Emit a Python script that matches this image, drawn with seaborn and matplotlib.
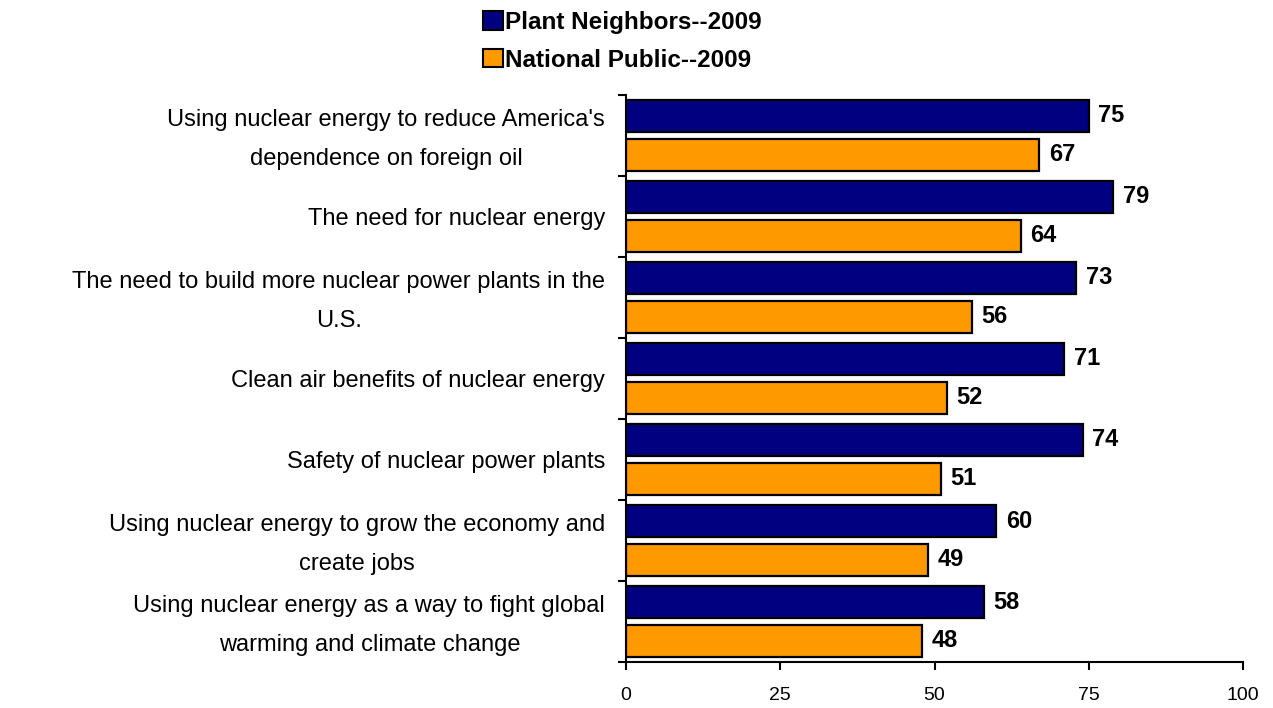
import pandas as pd
import matplotlib
matplotlib.use('Agg')
import matplotlib.pyplot as plt
import matplotlib.transforms as mtransforms
import seaborn as sns
from matplotlib.patches import Patch

# ── Data ──────────────────────────────────────────────────────────
categories = [
    "Using nuclear energy to reduce America's\ndependence on foreign oil",
    "The need for nuclear energy",
    "The need to build more nuclear power plants in the\nU.S.",
    "Clean air benefits of nuclear energy",
    "Safety of nuclear power plants",
    "Using nuclear energy to grow the economy and\ncreate jobs",
    "Using nuclear energy as a way to fight global\nwarming and climate change",
]
plant_neighbors = [75, 79, 73, 71, 74, 60, 58]
national_public = [67, 64, 56, 52, 51, 49, 48]
series_names = ["Plant Neighbors--2009", "National Public--2009"]
x_ticks = [0, 25, 50, 75, 100]

colors = ["#000080", "#FF9900"]

df = pd.DataFrame({
    'category': categories * 2,
    'value': plant_neighbors + national_public,
    'series': [series_names[0]] * len(categories) + [series_names[1]] * len(categories),
})

# ── Plot ──────────────────────────────────────────────────────────
sns.set_style('ticks')
plt.rcParams['font.family'] = ['Liberation Sans', 'DejaVu Sans']
plt.rcParams['text.color'] = 'black'
plt.rcParams['xtick.color'] = 'black'
plt.rcParams['ytick.color'] = 'black'

fig = plt.figure(figsize=(12.73, 7.08), dpi=100)
ax = fig.add_axes([0.4918, 0.065, 0.4846, 0.801])

sns.barplot(data=df, y='category', x='value', hue='series', orient='h',
            palette=colors, saturation=1, width=0.96, gap=0.17,
            edgecolor='black', linewidth=1.6, legend=False, ax=ax)

# value labels
for cont in ax.containers:
    ax.bar_label(cont, fmt='%d', padding=7, fontsize=17, fontweight='bold')

ax.set_xlim(0, 100)
ax.set_ylim(len(categories) - 0.5, -0.5)
ax.set_xticks(x_ticks)
ax.set_xlabel('')
ax.set_ylabel('')

# category labels centered, tick marks at group boundaries
ax.set_yticks(range(len(categories)))
ax.set_yticklabels(categories, fontsize=17, multialignment='center',
                   linespacing=2.0)
ax.set_yticks([i - 0.5 for i in range(len(categories) + 1)], minor=True)
ax.tick_params(axis='y', which='major', left=True, length=0, pad=15)
ax.tick_params(axis='y', which='minor', left=True, length=6, width=1.5,
               color='black', direction='out')
ax.tick_params(axis='x', bottom=True, length=6, width=1.5, color='black',
               direction='out', labelsize=14, pad=12)

# nudge two-line labels up a little so they sit centred on the group
shift = mtransforms.ScaledTranslation(0, 5 / 72, fig.dpi_scale_trans)
for lbl in ax.get_yticklabels():
    if '\n' in lbl.get_text():
        lbl.set_transform(lbl.get_transform() + shift)

for side in ['top', 'right']:
    ax.spines[side].set_visible(False)
for side in ['left', 'bottom']:
    ax.spines[side].set_color('black')
    ax.spines[side].set_linewidth(1.5)

# legend on top
handles = [Patch(facecolor=c, edgecolor='black', linewidth=1.5) for c in colors]
fig.legend(handles, series_names, loc='upper left', bbox_to_anchor=(0.371, 1.0),
           frameon=False, prop={'weight': 'bold', 'size': 17.5},
           handlelength=0.8, handleheight=0.8, handletextpad=0.1,
           labelspacing=0.6, borderaxespad=0.05)

plt.savefig('out.png', dpi=100)
plt.close()
